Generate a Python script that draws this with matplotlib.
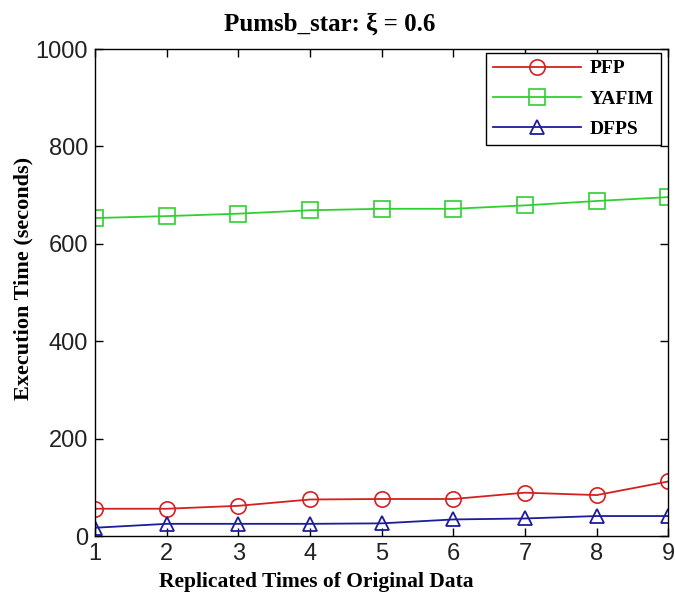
import matplotlib
matplotlib.use("Agg")
import matplotlib.pyplot as plt

# valores
replicas = [1, 2, 3, 4, 5, 6, 7, 8, 9]
pfp = [56, 56, 62, 75, 76, 76, 89, 84, 112]
yafim = [653, 657, 662, 669, 672, 672, 679, 688, 696]
dfps = [17, 25, 25, 25, 26, 34, 36, 41, 41]

fig = plt.figure(figsize=(6.75, 6.06), dpi=100)
ax = fig.add_axes([0.141, 0.1155, 0.849, 0.8035])

serif = dict(family="Liberation Serif", fontweight="bold")

ax.plot(replicas, pfp, color="#d42020", marker="o", markersize=11,
        markerfacecolor="none", markeredgewidth=1.2, linewidth=1.3, label="PFP")
ax.plot(replicas, yafim, color="#30d030", marker="s", markersize=11,
        markerfacecolor="none", markeredgewidth=1.2, linewidth=1.3, label="YAFIM")
ax.plot(replicas, dfps, color="#1c1c9c", marker="^", markersize=10,
        markerfacecolor="none", markeredgewidth=1.3, linewidth=1.3, label="DFPS")

ax.set_xlim(1, 9)
ax.set_ylim(0, 1000)
ax.set_xticks(replicas)
ax.set_yticks([0, 200, 400, 600, 800, 1000])

ax.tick_params(direction="in", top=True, right=True, length=6, width=1,
               labelsize=17, pad=5)
for lbl in ax.get_xticklabels() + ax.get_yticklabels():
    lbl.set_family("Liberation Sans")
    lbl.set_color("#222222")
for s in ax.spines.values():
    s.set_linewidth(1.0)

# título e rótulo x ficam um pouco à esquerda do centro no original
fig.text(330 / 675, 1 - 24 / 606, "Pumsb_star: \u03be = 0.6", fontsize=18,
         ha="center", va="center", **serif)
fig.text(316 / 675, 1 - 582 / 606, "Replicated Times of Original Data", fontsize=15.5,
         ha="center", va="center", **serif)
ax.set_ylabel("Execution Time (seconds)", fontsize=16, **serif)
ax.yaxis.set_label_coords(-0.108, 0.53)

leg = ax.legend(loc="upper right", prop={"family": "Liberation Serif", "weight": "bold", "size": 14},
                fancybox=False, edgecolor="black", framealpha=1, handlelength=4.5,
                borderaxespad=0.1, labelspacing=0.65, borderpad=0.35, handletextpad=0.45,
                bbox_to_anchor=(0.99, 0.996))
leg.get_frame().set_linewidth(1.0)

fig.savefig("out.png", dpi=100, facecolor="white")
